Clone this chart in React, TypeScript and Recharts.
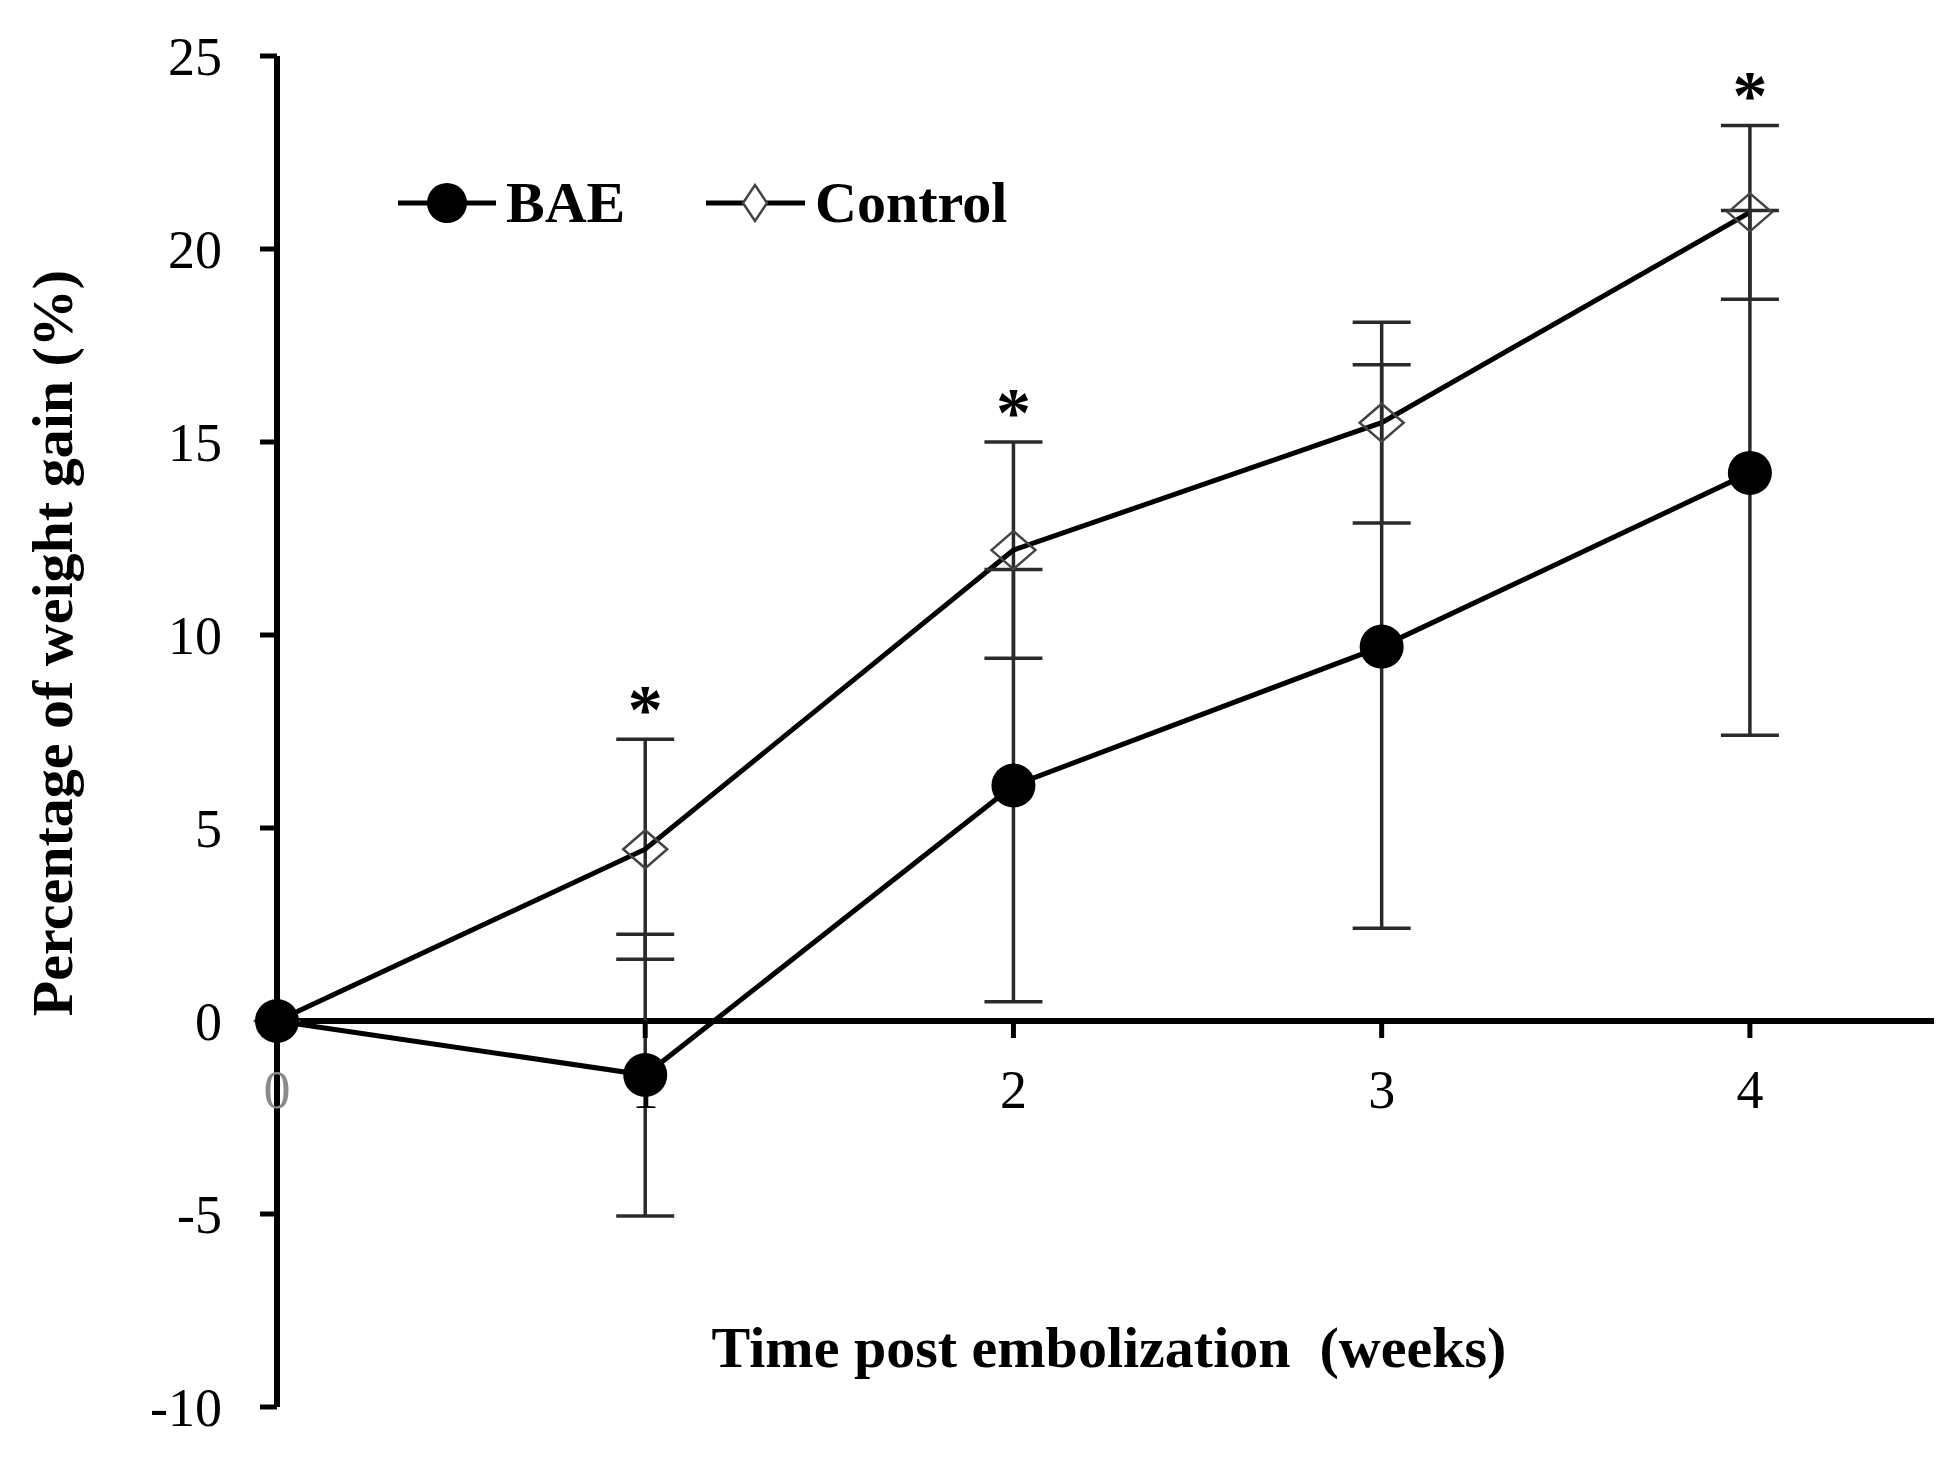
import React from "react";
import {
  LineChart,
  Line,
  XAxis,
  YAxis,
  ErrorBar,
  ReferenceLine,
  ReferenceDot,
} from "recharts";

// weight gain after bronchial artery embolization, mean ± SD per week
const weeks = [0, 1, 2, 3, 4];
const baeMean = [0, -1.4, 6.1, 9.7, 14.2];
const baeErr = [0, 3.65, 5.6, 7.3, 6.8];
const controlMean = [0, 4.45, 12.2, 15.5, 20.95];
const controlErr = [0, 2.85, 2.8, 2.6, 2.25];
const significantWeeks = [1, 2, 4];

const yTicks = [-10, -5, 0, 5, 10, 15, 20, 25];
const xTickLabels = ["0", "1", "2", "3", "4"];

const FONT = '"Liberation Serif", "Times New Roman", serif';
const INK = "#000";
const BAR_INK = "#2a2a2a";

const data = weeks.map((w, i) => ({
  week: w,
  bae: baeMean[i],
  baeErr: baeErr[i],
  control: controlMean[i],
  controlErr: controlErr[i],
}));

function BaeDot(props: any) {
  const { cx, cy } = props;
  if (cx == null || cy == null) return null;
  return <circle cx={cx} cy={cy} r={22} fill={INK} />;
}

function ControlDot(props: any) {
  const { cx, cy } = props;
  if (cx == null || cy == null) return null;
  const w = 22;
  const h = 19;
  return (
    <polygon
      points={`${cx - w},${cy} ${cx},${cy - h} ${cx + w},${cy} ${cx},${cy + h}`}
      fill="none"
      stroke="#444"
      strokeWidth={2.5}
    />
  );
}

function XTick({ cx, cy, label }: { cx?: number; cy?: number; label: string }) {
  if (cx == null || cy == null) return null;
  return (
    <g>
      <line x1={cx} y1={cy} x2={cx} y2={cy + 17} stroke={INK} strokeWidth={5} />
      <text
        x={cx}
        y={cy + 87}
        textAnchor="middle"
        fontFamily={FONT}
        fontSize={54}
        fill={label === "0" ? "#8a8a8a" : INK}
      >
        {label}
      </text>
    </g>
  );
}

function Star({ cx, cy }: { cx?: number; cy?: number }) {
  if (cx == null || cy == null) return null;
  return (
    <text x={cx} y={cy - 6} textAnchor="middle" fontFamily={FONT} fontSize={70} fontWeight="bold" fill={INK}>
      *
    </text>
  );
}

function YTitle({ viewBox }: any) {
  const x = viewBox.x + 52;
  const y = viewBox.y + 587;
  return (
    <g>
      <text
        x={x}
        y={y}
        transform={`rotate(-90 ${x} ${y})`}
        textAnchor="middle"
        dominantBaseline="central"
        fontFamily={FONT}
        fontSize={58}
        fontWeight="bold"
        fill={INK}
      >
        Percentage of weight gain (%)
      </text>
      {/* legend + x title hung off the axis label so they sit in the same svg */}
      <g transform={`translate(${viewBox.x + 398}, ${viewBox.y + 115})`}>
        <line x1={0} y1={32} x2={98} y2={32} stroke={INK} strokeWidth={5} />
        <circle cx={49} cy={32} r={20} fill={INK} />
        <text x={108} y={51} fontFamily={FONT} fontSize={58} fontWeight="bold" fill={INK}>
          BAE
        </text>
        <line x1={308} y1={32} x2={407} y2={32} stroke={INK} strokeWidth={5} />
        <polygon points="345,32 357,14 369,32 357,50" fill="#fff" stroke="#444" strokeWidth={2.5} />
        <text x={417} y={51} fontFamily={FONT} fontSize={58} fontWeight="bold" fill={INK}>
          Control
        </text>
      </g>
      <text
        x={viewBox.x + 1109}
        y={viewBox.y + 1311}
        textAnchor="middle"
        fontFamily={FONT}
        fontSize={58}
        fontWeight="bold"
        fill={INK}
        style={{ whiteSpace: "pre" }}
      >
        {"Time post embolization  (weeks)"}
      </text>
    </g>
  );
}

export default function App() {
  return (
    <div style={{ position: "absolute", left: 0, top: 0, width: 1950, height: 1458, background: "#fff" }}>
      <LineChart
        width={1950}
        height={1458}
        data={data}
        margin={{ top: 56, right: 16, bottom: 51, left: 0 }}
        style={{ fontFamily: FONT }}
      >
        <XAxis dataKey="week" type="number" domain={[0, 4.5]} hide height={0} />
        <YAxis
          type="number"
          domain={[-10, 25]}
          ticks={yTicks}
          interval={0}
          width={277}
          axisLine={{ stroke: INK, strokeWidth: 6 }}
          tickLine={{ stroke: INK, strokeWidth: 5 }}
          tickSize={17}
          tickMargin={38}
          tick={{ fontSize: 54, fill: INK, fontFamily: FONT }}
          label={<YTitle />}
        />
        <ReferenceLine y={0} stroke={INK} strokeWidth={6} />
        {weeks.map((w, i) => (
          <ReferenceDot
            key={`xt-${w}`}
            x={w}
            y={0}
            r={0}
            shape={(p: any) => <XTick cx={p.cx} cy={p.cy} label={xTickLabels[i]} />}
          />
        ))}
        {significantWeeks.map((w) => {
          const i = weeks.indexOf(w);
          return (
            <ReferenceDot
              key={`sig-${w}`}
              x={w}
              y={controlMean[i] + controlErr[i]}
              r={0}
              shape={(p: any) => <Star cx={p.cx} cy={p.cy} />}
            />
          );
        })}
        <Line
          dataKey="control"
          name="Control"
          stroke={INK}
          strokeWidth={5}
          dot={<ControlDot />}
          activeDot={false}
          isAnimationActive={false}
        >
          <ErrorBar dataKey="controlErr" direction="y" width={29} stroke={BAR_INK} strokeWidth={3.5} />
        </Line>
        <Line
          dataKey="bae"
          name="BAE"
          stroke={INK}
          strokeWidth={5}
          dot={<BaeDot />}
          activeDot={false}
          isAnimationActive={false}
        >
          <ErrorBar dataKey="baeErr" direction="y" width={29} stroke={BAR_INK} strokeWidth={3.5} />
        </Line>
      </LineChart>
    </div>
  );
}
